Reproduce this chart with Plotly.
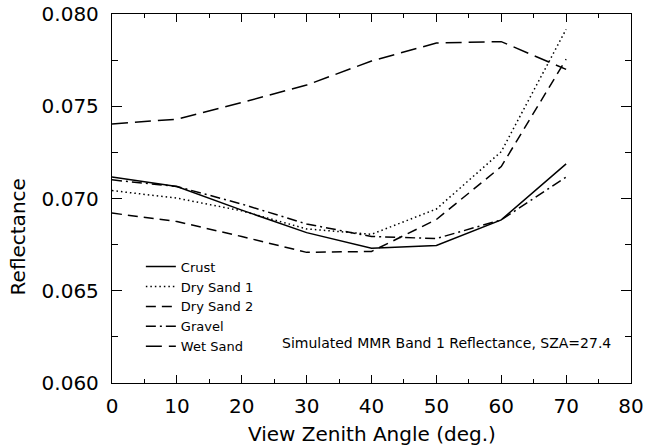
import plotly.graph_objects as go

# View zenith angle (deg.)
vza = [0, 10, 20, 30, 40, 50, 60, 70]

crust      = [0.07116, 0.07065, 0.06937, 0.06815, 0.06730, 0.06745, 0.06884, 0.07188]
dry_sand_1 = [0.07043, 0.07002, 0.06933, 0.06835, 0.06806, 0.06943, 0.07254, 0.07917]
dry_sand_2 = [0.06921, 0.06875, 0.06794, 0.06708, 0.06713, 0.06886, 0.07173, 0.07755]
gravel     = [0.07101, 0.07065, 0.06970, 0.06862, 0.06794, 0.06783, 0.06884, 0.07116]
wet_sand   = [0.07404, 0.07430, 0.07520, 0.07615, 0.07745, 0.07843, 0.07850, 0.07700]

names = ["Crust", "Dry Sand 1", "Dry Sand 2", "Gravel", "Wet Sand"]
series = [crust, dry_sand_1, dry_sand_2, gravel, wet_sand]
dashes = ["solid", "1.5px,3px", "10px,6px", "10px,4px,2px,4px", "16px,7px"]

FONT = "DejaVu Sans"

fig = go.Figure()
for name, ys, dash in zip(names, series, dashes):
    fig.add_trace(go.Scatter(
        x=vza, y=ys, mode="lines", name=name,
        line=dict(color="black", width=1.5, dash=dash),
    ))

fig.update_layout(
    width=647, height=446,
    margin=dict(l=112, r=16, t=14, b=63, autoexpand=False),
    paper_bgcolor="white", plot_bgcolor="white",
    font=dict(family=FONT, color="black", size=20),
    showlegend=True,
    legend=dict(
        x=0.0556, y=0.356, xanchor="left", yanchor="top",
        bgcolor="rgba(0,0,0,0)", borderwidth=0,
        font=dict(family=FONT, size=13, color="black"),
        tracegroupgap=0,
    ),
    xaxis=dict(
        range=[0, 80], dtick=10, tick0=0, automargin=False,
        showline=True, linecolor="black", linewidth=1.3,
        mirror="allticks", ticks="inside", ticklen=8, tickwidth=1.2, tickcolor="black",
        showgrid=False, zeroline=False,
        minor=dict(dtick=5, ticks="inside", ticklen=4, tickwidth=1.2, tickcolor="black", showgrid=False),
        tickfont=dict(family=FONT, size=20),
        ticklabelstandoff=5,
    ),
    yaxis=dict(
        range=[0.060, 0.080], dtick=0.005, tick0=0.060, tickformat=".3f", automargin=False,
        showline=True, linecolor="black", linewidth=1.3,
        mirror="allticks", ticks="inside", ticklen=10, tickwidth=1.2, tickcolor="black",
        showgrid=False, zeroline=False,
        minor=dict(dtick=0.0025, ticks="inside", ticklen=6, tickwidth=1.2, tickcolor="black", showgrid=False),
        tickfont=dict(family=FONT, size=20),
        ticklabelstandoff=8,
    ),
)

fig.add_annotation(
    text="View Zenith Angle (deg.)",
    xref="paper", yref="paper", x=0.5, y=-0.139,
    xanchor="center", yanchor="middle", showarrow=False,
    font=dict(family=FONT, size=20, color="black"),
)
fig.add_annotation(
    text="Reflectance", textangle=-90,
    xref="paper", yref="paper", x=-0.182, y=0.396,
    xanchor="center", yanchor="middle", showarrow=False,
    font=dict(family=FONT, size=20, color="black"),
)
fig.add_annotation(
    text="Simulated MMR Band 1 Reflectance, SZA=27.4",
    xref="paper", yref="paper", x=0.966, y=0.109,
    xanchor="right", yanchor="middle", showarrow=False,
    font=dict(family=FONT, size=14, color="black"),
)

fig.write_html("out.html")
